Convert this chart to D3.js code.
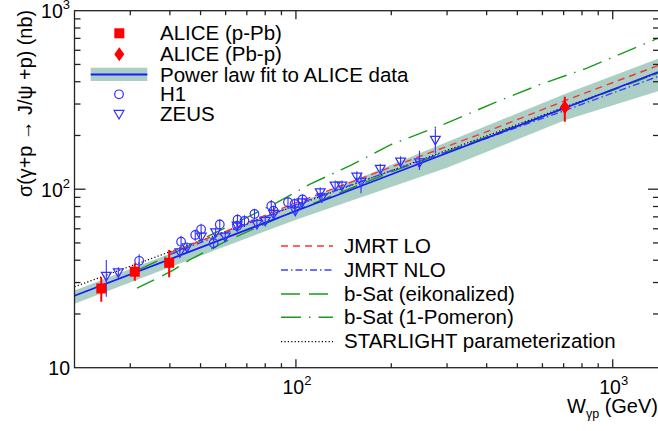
<!DOCTYPE html>
<html><head><meta charset="utf-8">
<script src="https://cdn.jsdelivr.net/npm/d3@7"></script>
<style>
body{margin:0;background:#fff}
svg{display:block}
text{font-family:"Liberation Sans", Arial, Helvetica, sans-serif;fill:#000}
</style>
</head><body>
<svg id="c" width="658" height="431"></svg>
<script>
// ---------------- data ----------------
const xTickMajor = [100, 1000];
const xTickLabels = [["10","2"],["10","3"]];
const yTickMajor = [10, 100, 1000];
const yTickLabels = [["10",""],["10","2"],["10","3"]];

// ALICE p-Pb
const alicePPbW  = [24.3, 31.0, 39.8];
const alicePPbS  = [27.8, 34.5, 38.7];
const alicePPbLo = [23.4, 30.7, 32.1];
const alicePPbHi = [32.1, 38.5, 45.6];
// ALICE Pb-p
const alicePbpW  = [706];
const alicePbpS  = [288];
const alicePbpLo = [239];
const alicePbpHi = [330];

// H1
const h1W = [32.0, 43.4, 48.1, 50.2, 55.0, 57.5, 65.2, 65.4, 68.8, 74.0, 83.6, 85.0, 94.4, 99.0, 104.9];
const h1S = [39.7, 50.8, 55.4, 59.6, 49.8, 63.5, 62.2, 67.5, 66.5, 72.6, 80.5, 75.8, 84.5, 82.6, 87.7];
const h1E = [3.5, 4.0, 4.0, 4.5, 3.5, 4.5, 4.5, 5.0, 5.0, 5.0, 6.5, 5.0, 6.0, 6.0, 6.0];

// ZEUS
const zeusW  = [25.2, 27.5, 43.0, 45.3, 50.3, 55.8, 59.8, 65.2, 75.3, 80.0, 85.0, 99.5, 104.5, 119.3, 120.8, 133, 139.7, 155.7, 160.5, 184.6, 214, 245.5, 275.5];
const zeusS  = [33.0, 34.5, 44.7, 47.7, 54.7, 57.8, 54.7, 63.0, 64.4, 67.1, 73.3, 76.4, 85.1, 96.8, 90.8, 105.6, 105.6, 118.5, 111, 131, 144, 142.6, 190.5];
const zeusLo = [25.0, 32.5, 42, 45, 51.5, 54.5, 51.5, 59.5, 60.5, 63, 69, 72, 80, 91, 85.5, 99.5, 99.5, 111, 95, 123, 135, 128, 159];
const zeusHi = [40.1, 36.5, 47.5, 50.5, 58, 61, 58, 66.5, 68.5, 71, 77.5, 81, 90, 102.5, 96, 112, 112, 126, 123, 139, 153, 164, 219];

// Power-law fit and its band
const fitW = [20, 100, 300, 706, 1400];
const fitS = [25.3, 75.5, 159.5, 285, 455];
const bandW  = [20, 40, 100, 300, 706, 1400];
const bandLo = [22.8, 36.5, 67.5, 132, 243, 355];
const bandHi = [27.1, 43.5, 82.5, 184, 341, 541];

// model curves
const jmrtLOW = [40, 60, 100, 200, 400, 706, 1400];
const jmrtLOS = [44, 58, 84, 133, 210, 313, 495];
const jmrtNLOW = [40, 60, 100, 200, 400, 706, 1400];
const jmrtNLOS = [43, 57, 82, 127, 193, 276, 430];
const bsatEikW = [31.5, 36.5, 41, 46, 60, 80, 100, 200, 400, 706, 1400];
const bsatEikS = [27.9, 31.7, 35.2, 40.1, 51, 64, 76, 125, 196, 285, 448];
const bsat1PW = [32, 36.5, 50, 66, 87, 110, 150, 200, 300, 431, 594, 822, 1400];
const bsat1PS = [35.5, 39.5, 52, 66, 84, 106, 137, 178, 235, 309, 388, 474, 705];
const starW = [20, 50, 100, 200, 400, 700, 1400];
const starS = [28.4, 51.6, 81.0, 127, 199, 287, 450];

// ---------------- drawing ----------------
const svg = d3.select("#c");
const L = 74.5, R = 659, T = 10.7, B = 367.7;
const x = d3.scaleLog().domain([20, 1400]).range([L, R]);
const y = d3.scaleLog().domain([10, 1000]).range([B, T]);

svg.append("defs").append("clipPath").attr("id","clip")
  .append("rect").attr("x",L).attr("y",T).attr("width",R-L).attr("height",B-T);
const g = svg.append("g").attr("clip-path","url(#clip)");

const BLUE = "#1a1aff", RED = "#ff0000", GREEN = "#1a9a1a";
const bandCol = "#abcfc4";

// band
g.append("path")
  .datum(bandW.map((w,i)=>({w, lo:bandLo[i], hi:bandHi[i]})))
  .attr("d", d3.area().x(d=>x(d.w)).y0(d=>y(d.lo)).y1(d=>y(d.hi)))
  .attr("fill", bandCol);

const line = d3.line().x(d=>x(d[0])).y(d=>y(d[1]));
function curve(W, S, color, width, dash){
  g.append("path").datum(W.map((w,i)=>[w,S[i]]))
    .attr("d", line).attr("fill","none").attr("stroke",color)
    .attr("stroke-width",width).attr("stroke-dasharray",dash||null);
}
curve(starW, starS, "#000", 1.2, "1.2,2.2");
curve(bsatEikW, bsatEikS, GREEN, 1.4, "19,9");
curve(bsat1PW, bsat1PS, GREEN, 1.4, "20,8,1.5,8");
curve(jmrtNLOW, jmrtNLOS, "#4040ff", 1.4, "7,3,1.5,3");
curve(jmrtLOW, jmrtLOS, "#ff3030", 1.4, "7,5");
curve(fitW, fitS, BLUE, 1.8, null);

// H1 points
const h1 = h1W.map((w,i)=>({w, s:h1S[i], e:h1E[i]}));
g.selectAll(".h1e").data(h1).enter().append("line")
  .attr("x1",d=>x(d.w)).attr("x2",d=>x(d.w))
  .attr("y1",d=>y(d.s+d.e)).attr("y2",d=>y(d.s-d.e))
  .attr("stroke","#3030ff").attr("stroke-width",1.1);
g.selectAll(".h1m").data(h1).enter().append("circle")
  .attr("cx",d=>x(d.w)).attr("cy",d=>y(d.s)).attr("r",4.3)
  .attr("fill","none").attr("stroke","#3030ff").attr("stroke-width",1.2);

// ZEUS points
const zeus = zeusW.map((w,i)=>({w, s:zeusS[i], lo:zeusLo[i], hi:zeusHi[i]}));
g.selectAll(".ze").data(zeus).enter().append("line")
  .attr("x1",d=>x(d.w)).attr("x2",d=>x(d.w))
  .attr("y1",d=>y(d.hi)).attr("y2",d=>y(d.lo))
  .attr("stroke","#3030ff").attr("stroke-width",1.1);
const tri = d3.symbol().type(d3.symbolTriangle).size(42);
g.selectAll(".zm").data(zeus).enter().append("path")
  .attr("d", tri).attr("transform",d=>`translate(${x(d.w)},${y(d.s)}) rotate(180)`)
  .attr("fill","none").attr("stroke","#3030ff").attr("stroke-width",1.2);

// ALICE p-Pb
const apb = alicePPbW.map((w,i)=>({w, s:alicePPbS[i], lo:alicePPbLo[i], hi:alicePPbHi[i]}));
g.selectAll(".ae").data(apb).enter().append("line")
  .attr("x1",d=>x(d.w)).attr("x2",d=>x(d.w))
  .attr("y1",d=>y(d.hi)).attr("y2",d=>y(d.lo))
  .attr("stroke",RED).attr("stroke-width",2);
g.selectAll(".am").data(apb).enter().append("rect")
  .attr("x",d=>x(d.w)-5).attr("y",d=>y(d.s)-5).attr("width",10).attr("height",10)
  .attr("fill",RED);
// ALICE Pb-p
const abp = alicePbpW.map((w,i)=>({w, s:alicePbpS[i], lo:alicePbpLo[i], hi:alicePbpHi[i]}));
g.selectAll(".be").data(abp).enter().append("line")
  .attr("x1",d=>x(d.w)).attr("x2",d=>x(d.w))
  .attr("y1",d=>y(d.hi)).attr("y2",d=>y(d.lo))
  .attr("stroke",RED).attr("stroke-width",2);
g.selectAll(".bm").data(abp).enter().append("path")
  .attr("d","M0,-7L5,0L0,7L-5,0Z")
  .attr("transform",d=>`translate(${x(d.w)},${y(d.s)})`)
  .attr("fill",RED);

// ---------------- axes ----------------
const ax = svg.append("g").attr("stroke","#222").attr("stroke-width",1.3);
ax.append("rect").attr("x",L).attr("y",T).attr("width",R-L).attr("height",B-T).attr("fill","none");

const xMinor = [];
[10,100,1000].forEach(d=>{for(let k=2;k<=9;k++){const v=d*k; if(v>20&&v<1400) xMinor.push(v);}});
const yMinor = [];
[10,100].forEach(d=>{for(let k=2;k<=9;k++) yMinor.push(d*k);});

function xt(vals, len){
  vals.forEach(v=>{
    ax.append("line").attr("x1",x(v)).attr("x2",x(v)).attr("y1",B).attr("y2",B-len);
    ax.append("line").attr("x1",x(v)).attr("x2",x(v)).attr("y1",T).attr("y2",T+len);
  });
}
xt(xMinor, 4.5); xt(xTickMajor, 8.5);
function yt(vals, len){
  vals.forEach(v=>{
    ax.append("line").attr("y1",y(v)).attr("y2",y(v)).attr("x1",L).attr("x2",L+len);
    ax.append("line").attr("y1",y(v)).attr("y2",y(v)).attr("x1",R).attr("x2",R-len);
  });
}
yt(yMinor, 6); yt(yTickMajor.filter(v=>v>10&&v<1000), 11);

// tick labels
const tickFs = 19.5;
xTickMajor.forEach((v,i)=>{
  const t = svg.append("text").attr("x",x(v)+1).attr("y",394.3)
    .attr("text-anchor","middle").attr("font-size",tickFs);
  t.append("tspan").text(xTickLabels[i][0]);
  t.append("tspan").attr("font-size",13).attr("dy",-9).text(xTickLabels[i][1]);
});
yTickMajor.forEach((v,i)=>{
  const t = svg.append("text").attr("x",70).attr("y",y(v)+7.3)
    .attr("text-anchor","end").attr("font-size",tickFs);
  t.append("tspan").text(yTickLabels[i][0]);
  if (yTickLabels[i][1]) t.append("tspan").attr("font-size",13).attr("dy",-9).text(yTickLabels[i][1]);
});

// axis titles
const xt1 = svg.append("text").attr("x",567).attr("y",413).attr("font-size",20);
xt1.append("tspan").text("W");
xt1.append("tspan").attr("font-size",12.5).attr("dy",4.5).text("γp");
xt1.append("tspan").attr("dy",-4.5).text(" (GeV)");

svg.append("text").attr("transform","translate(32,197) rotate(-90)")
  .attr("font-size",20).attr("textLength",187).attr("lengthAdjust","spacingAndGlyphs")
  .text("σ(γ+p → J/ψ +p) (nb)");

// ---------------- legends ----------------
const fs = 20.5;
const lg = svg.append("g");
const lx = 160;
lg.append("rect").attr("x",119.3-5).attr("y",33.3-5).attr("width",10).attr("height",10).attr("fill",RED);
lg.append("text").attr("x",lx).attr("y",40).attr("font-size",fs).text("ALICE (p-Pb)");
lg.append("path").attr("d","M0,-7L5,0L0,7L-5,0Z").attr("transform","translate(119.3,54.3)").attr("fill",RED);
lg.append("text").attr("x",lx).attr("y",61).attr("font-size",fs).text("ALICE (Pb-p)");
lg.append("rect").attr("x",90.7).attr("y",67.7).attr("width",56.6).attr("height",13.3).attr("fill",bandCol);
lg.append("line").attr("x1",90.7).attr("x2",147.3).attr("y1",74.5).attr("y2",74.5).attr("stroke",BLUE).attr("stroke-width",1.8);
lg.append("text").attr("x",lx).attr("y",81.5).attr("font-size",fs).text("Power law fit to ALICE data");
lg.append("circle").attr("cx",119).attr("cy",94.3).attr("r",4.3).attr("fill","none").attr("stroke","#3030ff").attr("stroke-width",1.2);
lg.append("text").attr("x",lx).attr("y",101.3).attr("font-size",fs).text("H1");
lg.append("path").attr("d",tri).attr("transform","translate(119,113.3) rotate(180)").attr("fill","none").attr("stroke","#3030ff").attr("stroke-width",1.2);
lg.append("text").attr("x",lx).attr("y",120.5).attr("font-size",fs).text("ZEUS");

const models = [
  {name:"JMRT LO", color:"#ff3030", dash:"7,5", w:1.4},
  {name:"JMRT NLO", color:"#4040ff", dash:"7,3,1.5,3", w:1.4},
  {name:"b-Sat (eikonalized)", color:GREEN, dash:"19,9", w:1.4},
  {name:"b-Sat (1-Pomeron)", color:GREEN, dash:"20,8,1.5,8", w:1.4},
  {name:"STARLIGHT parameterization", color:"#000", dash:"1.2,2.2", w:1.2}
];
const my = [246, 270, 294, 317.3, 341.7];
models.forEach((m,i)=>{
  lg.append("line").attr("x1",281).attr("x2",333).attr("y1",my[i]).attr("y2",my[i])
    .attr("stroke",m.color).attr("stroke-width",m.w).attr("stroke-dasharray",m.dash);
  lg.append("text").attr("x",344).attr("y",my[i]+6.5).attr("font-size",fs).text(m.name);
});
</script>
</body></html>
